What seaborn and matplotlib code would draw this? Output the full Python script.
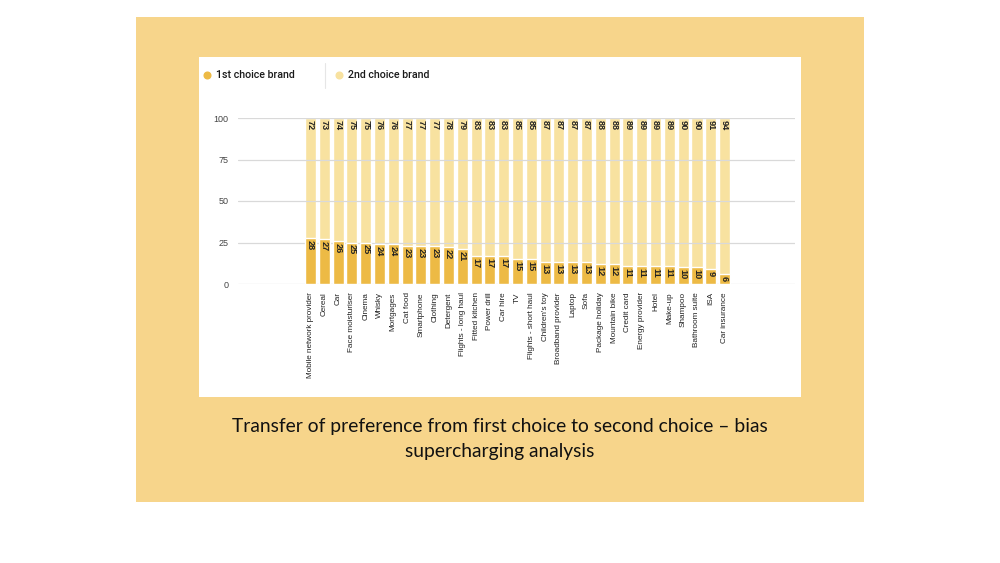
import matplotlib
matplotlib.use("Agg")

import numpy as np
import pandas as pd
import seaborn as sns
import matplotlib.pyplot as plt
from matplotlib.patches import Rectangle
from matplotlib.lines import Line2D

categories = [
    "Mobile network provider", "Cereal", "Car", "Face moisturiser", "Cinema",
    "Whisky", "Mortgages", "Cat food", "Smartphone", "Clothing", "Detergent",
    "Flights - long haul", "Fitted kitchen", "Power drill", "Car hire", "TV",
    "Flights - short haul", "Children's toy", "Broadband provider", "Laptop",
    "Sofa", "Package holiday", "Mountain bike", "Credit card", "Energy provider",
    "Hotel", "Make-up", "Shampoo", "Bathroom suite", "ISA", "Car insurance",
]
first_choice = [28, 27, 26, 25, 25, 24, 24, 23, 23, 23, 22, 21, 17, 17, 17, 15,
                15, 13, 13, 13, 13, 12, 12, 11, 11, 11, 11, 10, 10, 9, 6]
second_choice = [72, 73, 74, 75, 75, 76, 76, 77, 77, 77, 78, 79, 83, 83, 83, 85,
                 85, 87, 87, 87, 87, 88, 88, 89, 89, 89, 89, 90, 90, 91, 94]
y_ticks = [0, 25, 50, 75, 100]
series_names = ["1st choice brand", "2nd choice brand"]
title = "Transfer of preference from first choice to second choice – bias\nsupercharging analysis"

C_FIRST = "#EDBA45"
C_SECOND = "#F8E2A0"
C_PANEL = "#F7D58B"

df = pd.DataFrame({"cat": categories, "first": first_choice, "second": second_choice})
df["total"] = df["first"] + df["second"]

sns.set_style("white")
plt.rcParams["font.family"] = ["Liberation Sans", "DejaVu Sans"]

fig = plt.figure(figsize=(10, 5.63), dpi=100)
fig.patch.set_facecolor("white")

W, H = 1000, 563


def fx(px):
    return px / W


def fy(py):
    return 1 - py / H


# background panel and white chart card
fig.patches.append(Rectangle((fx(136), fy(502)), fx(864) - fx(136), fy(17) - fy(502),
                             transform=fig.transFigure, facecolor=C_PANEL, edgecolor="none", zorder=-10))
fig.patches.append(Rectangle((fx(199), fy(397)), fx(801) - fx(199), fy(57) - fy(397),
                             transform=fig.transFigure, facecolor="white", edgecolor="none", zorder=-9))

ax = fig.add_axes([fx(238), fy(284), fx(795) - fx(238), fy(118) - fy(284)])
ax.set_facecolor("none")

sns.barplot(data=df, x="cat", y="total", color=C_SECOND, width=0.8, saturation=1,
            ax=ax, zorder=2)
sns.barplot(data=df, x="cat", y="first", color=C_FIRST, width=0.8, saturation=1,
            ax=ax, zorder=3)

ax.set_xlim(-5.25, 35.1)
ax.set_ylim(0, 100)
ax.set_yticks(y_ticks)
ax.set_yticklabels([str(t) for t in y_ticks], fontsize=6.5, color="#444444")
ax.tick_params(axis="y", length=0, pad=7)
ax.tick_params(axis="x", length=0, pad=6)
ax.set_xticks(range(len(categories)))
ax.set_xticklabels(categories, rotation=90, fontsize=5.9, color="#222222", ha="center", va="top")
ax.grid(axis="y", color="#d9d9d9", linewidth=0.9, zorder=4)
ax.set_axisbelow(False)
for s in ax.spines.values():
    s.set_visible(False)
ax.set_xlabel("")
ax.set_ylabel("")

for i, (a, b) in enumerate(zip(first_choice, second_choice)):
    ax.text(i, a - 1.2, str(a), rotation=270, ha="center", va="top",
            fontsize=6.6, fontweight="bold", color="#222222", zorder=5)
    ax.text(i, a + b - 1.2, str(b), rotation=270, ha="center", va="top",
            fontsize=6.6, fontweight="bold", color="#222222", zorder=5)

# legend
leg_font = ["Roboto", "DejaVu Sans"]
fig.add_artist(Line2D([fx(207)], [fy(75)], marker="o", markersize=4.8, color=C_FIRST,
                      linestyle="none", transform=fig.transFigure))
fig.text(fx(216), fy(75), series_names[0], fontsize=7.7, color="#1a1a1a", va="center",
         family=leg_font, fontweight="medium")
fig.add_artist(Line2D([fx(325), fx(325)], [fy(63), fy(88)], color="#e6e6e6", linewidth=0.8,
                      transform=fig.transFigure))
fig.add_artist(Line2D([fx(339)], [fy(75)], marker="o", markersize=4.8, color=C_SECOND,
                      linestyle="none", transform=fig.transFigure))
fig.text(fx(348), fy(75), series_names[1], fontsize=7.7, color="#1a1a1a", va="center",
         family=leg_font, fontweight="medium")

fig.text(0.5, fy(439), title, ha="center", va="center", fontsize=13.9, color="#111111",
         linespacing=1.6, family=["Lato", "DejaVu Sans"])

fig.savefig("out.png", dpi=100, facecolor="white")
